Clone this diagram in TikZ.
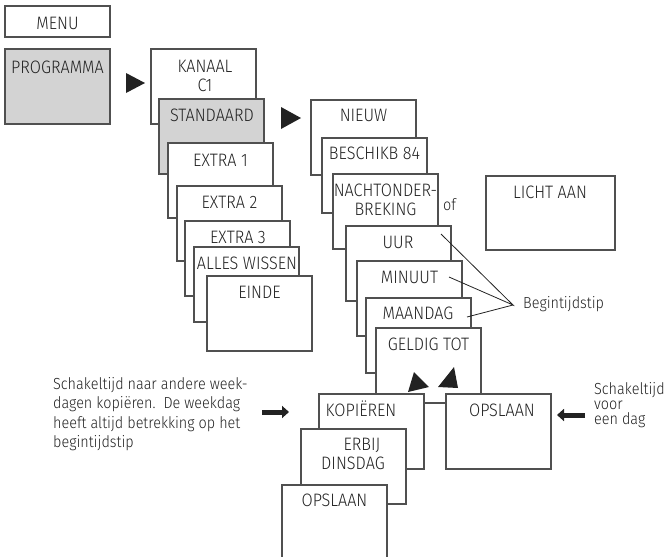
\documentclass[tikz,border=0pt]{standalone}
\usepackage{fontspec}
\setmainfont{Fira Sans}[UprightFont=* Light, FakeStretch=0.9]
\usetikzlibrary{arrows.meta}
\definecolor{boxc}{HTML}{505050}
\definecolor{txtc}{HTML}{222222}
\definecolor{grayfill}{HTML}{D3D3D3}
\begin{document}
\begin{tikzpicture}[x=1pt,y=-1pt,
  box/.style={draw=boxc, line width=1.1pt, fill=white, anchor=north west,
    minimum width=105pt, minimum height=75pt, inner sep=0pt, outer sep=0pt},
  gbox/.style={box, fill=grayfill},
  txt/.style={anchor=base, inner sep=0pt, text=txtc, font=\fontsize{18}{20}\selectfont},
  ltxt/.style={anchor=base west, inner sep=0pt, text=txtc, font=\fontsize{16}{20}\selectfont},
  tri/.style={fill=txtc, draw=none},
  thin/.style={draw=txtc, line width=0.8pt},
  fat/.style={draw=txtc, line width=5pt, -{Triangle[length=7pt,width=12pt]}}]
\useasboundingbox (0,0) rectangle (665,557);

% left column
\node[box, minimum height=31pt] (menu) at (5,6) {};
\node[txt] (tmenu) at (57.5,29) {MENU};
\node[gbox] (prog) at (5,49) {};
\node[txt] (tprog) at (57.5,73) {PROGRAMMA};
\fill[tri] (126,73) -- (145,83) -- (126,93) -- cycle;

% second column
\node[box] (kanaal) at (151,49) {};
\node[txt] (tkan1) at (205,72) {KANAAL};
\node[txt] (tkan2) at (205,91) {C1};
\node[gbox] (std) at (159,99) {};
\node[txt] (tstd) at (212,121.5) {STANDAARD};
\node[box] (ex1) at (168,143) {};
\node[txt] (tex1) at (220.5,166.5) {EXTRA 1};
\node[box] (ex2) at (177,186) {};
\node[txt] (tex2) at (229.5,208.5) {EXTRA 2};
\node[box] (ex3) at (185,221) {};
\node[txt] (tex3) at (238,243.5) {EXTRA 3};
\node[box] (alles) at (194,247) {};
\node[txt] (talles) at (247,269.5) {ALLES WISSEN};
\node[box] (einde) at (207,276) {};
\node[txt] (teinde) at (259.5,298.5) {EINDE};
\fill[tri] (281,107) -- (301,118) -- (281,129) -- cycle;

% third column
\node[box] (nieuw) at (311,100) {};
\node[txt] (tnieuw) at (363.5,121.5) {NIEUW};
\node[box] (besch) at (322,138) {};
\node[txt] (tbesch) at (374.5,159.5) {BESCHIKB 84};
\node[box] (nacht) at (333,174) {};
\node[txt] (tnacht1) at (385.5,196.5) {NACHTONDER-};
\node[txt] (tnacht2) at (385.5,215.5) {BREKING};
\node[box] (uur) at (346,226) {};
\node[txt] (tuur) at (398,248.5) {UUR};
\node[box] (min) at (357,261) {};
\node[txt] (tmin) at (409.5,283.5) {MINUUT};
\node[box] (maan) at (366,298) {};
\node[txt] (tmaan) at (418,319.5) {MAANDAG};
\node[box] (geldig) at (376,328) {};
\node[txt] (tgeldig) at (428.5,350.5) {GELDIG TOT};
\fill[tri] (408,392) -- (414,372) -- (429,387) -- cycle;
\fill[tri] (438,387) -- (454,367) -- (458,388) -- cycle;

% bottom stack
\node[box] (kop) at (319,394) {};
\node[txt] (tkop) at (361,416.5) {KOPIËREN};
\node[box] (erbij) at (301,429) {};
\node[txt] (terbij1) at (362,450.5) {ERBIJ};
\node[txt] (terbij2) at (353,469.5) {DINSDAG};
\node[box] (ops2) at (282,485) {};
\node[txt] (tops2) at (334.5,506.5) {OPSLAAN};
\node[box] (ops1) at (446,394) {};
\node[txt] (tops1) at (502,416.5) {OPSLAAN};

% right
\node[box, minimum width=129pt, minimum height=74pt] (licht) at (486,176) {};
\node[txt] (tlicht) at (550,198.5) {LICHT AAN};
\node[ltxt] (tof) at (443,210) {of};

% Begintijdstip
\coordinate (bt) at (513,305);
\coordinate (puur) at (441,234);
\coordinate (pmin) at (449,277);
\coordinate (pmaan) at (467,317);
\draw[thin] (puur) -- (bt) -- (pmin);
\draw[thin] (bt) -- (pmaan);
\node[ltxt] (tbt) at (523,308) {Begintijdstip};

% annotations
\node[ltxt] (tl1) at (53,389) {Schakeltijd naar andere week-};
\node[ltxt] (tl2) at (53,408.5) {dagen kopiëren.\ \ De weekdag};
\node[ltxt] (tl3) at (53,428) {heeft altijd betrekking op het};
\node[ltxt] (tl4) at (53,447) {begintijdstip};
\coordinate (la) at (262,412);
\coordinate (lb) at (289,412);
\draw[fat] (la) -- (lb);
\node[ltxt] (tr1) at (594,394) {Schakeltijd};
\node[ltxt] (tr2) at (594,409) {voor};
\node[ltxt] (tr3) at (594,424) {een dag};
\coordinate (ra) at (585,415);
\coordinate (rb) at (557,415);
\draw[fat] (ra) -- (rb);
\end{tikzpicture}
\end{document}
